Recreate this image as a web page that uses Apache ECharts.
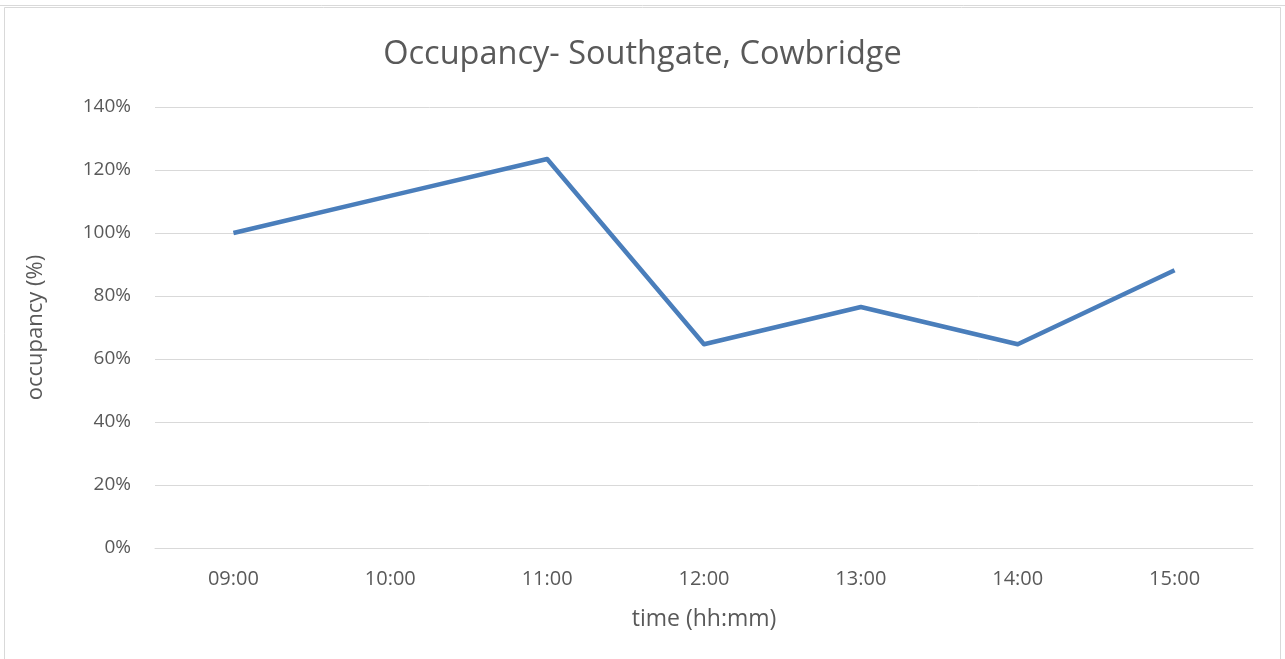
<!DOCTYPE html>
<html>
<head>
<meta charset="utf-8">
<script src="https://cdn.jsdelivr.net/npm/echarts@6/dist/echarts.min.js"></script>
<style>
html,body{margin:0;padding:0;background:#fff;}
#chart{width:1285px;height:659px;}
</style>
</head>
<body>
<div id="chart"></div>
<script>
const categories = ['09:00','10:00','11:00','12:00','13:00','14:00','15:00'];
const occupancy = [100, 111.8, 123.5, 64.7, 76.5, 64.7, 88.2];
const yTicks = [0, 20, 40, 60, 80, 100, 120, 140];

const chart = echarts.init(document.getElementById('chart'));
const FONT = 'Open Sans';
chart.setOption({
  animation: false,
  backgroundColor: '#fff',
  graphic: [
    { type: 'rect', shape: { x: 4.5, y: 7.5, width: 1276, height: 660 }, style: { fill: 'none', stroke: '#d9d9d9', lineWidth: 1 } },
    { type: 'line', shape: { x1: 0, y1: 5.5, x2: 1285, y2: 5.5 }, style: { stroke: '#d9d9d9', lineWidth: 1 } }
  ],
  title: {
    text: 'Occupancy- Southgate, Cowbridge',
    left: 'center', top: 33,
    textStyle: { fontFamily: FONT, fontSize: 32.5, fontWeight: 'normal', color: '#595959' }
  },
  grid: { left: 155, right: 32, top: 107, bottom: 111, containLabel: false },
  xAxis: {
    type: 'category',
    data: categories,
    boundaryGap: true,
    name: 'time (hh:mm)',
    nameLocation: 'middle',
    nameGap: 60,
    nameTextStyle: { fontFamily: FONT, fontSize: 23, color: '#595959' },
    axisLine: { show: true, lineStyle: { color: '#d9d9d9', width: 1 } },
    axisTick: { show: false },
    axisLabel: { fontFamily: FONT, fontSize: 20, color: '#595959', margin: 21 }
  },
  yAxis: {
    type: 'value',
    min: 0, max: 140, interval: 20,
    name: 'occupancy (%)',
    nameLocation: 'middle',
    nameGap: 108,
    nameRotate: 90,
    nameTextStyle: { fontFamily: FONT, fontSize: 22, color: '#595959' },
    axisLine: { show: false },
    axisTick: { show: false },
    splitLine: { lineStyle: { color: '#d9d9d9', width: 1 } },
    axisLabel: {
      fontFamily: FONT, fontSize: 19, color: '#595959', margin: 24,
      formatter: v => yTicks.includes(v) ? v + '%' : ''
    }
  },
  series: [{
    type: 'line',
    data: occupancy,
    symbol: 'none',
    lineStyle: { color: '#4a7ebb', width: 4.5, join: 'round' },
    itemStyle: { color: '#4a7ebb' }
  }]
});
</script>
</body>
</html>
